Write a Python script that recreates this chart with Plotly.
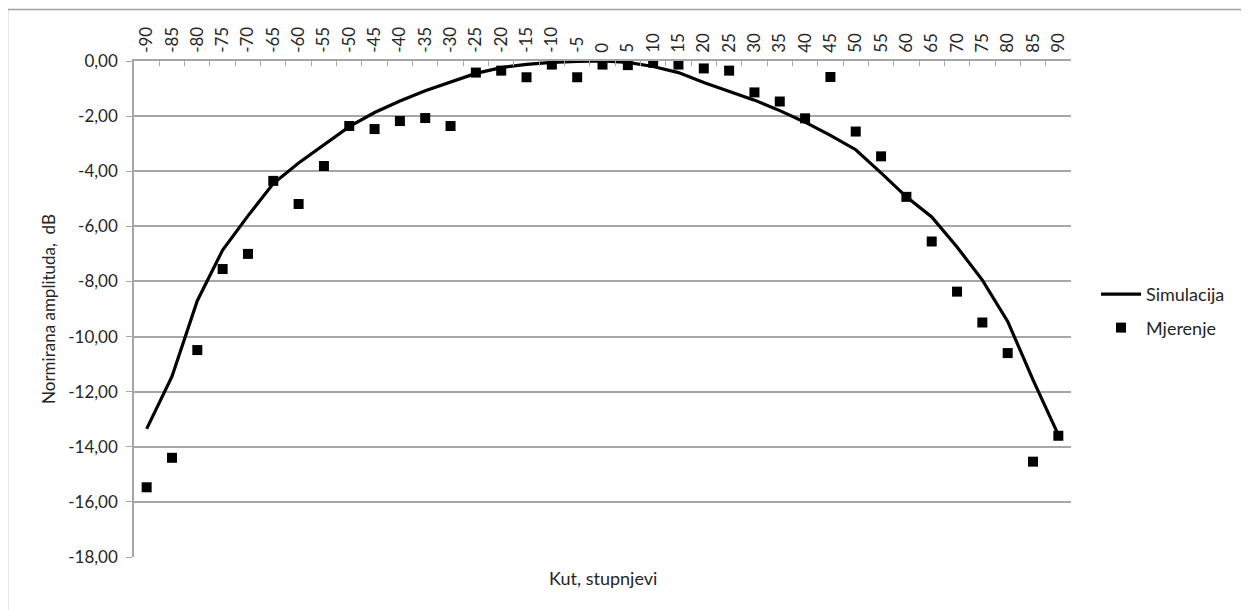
import plotly.graph_objects as go

angles = [-90, -85, -80, -75, -70, -65, -60, -55, -50, -45, -40, -35, -30, -25, -20, -15, -10, -5,
          0, 5, 10, 15, 20, 25, 30, 35, 40, 45, 50, 55, 60, 65, 70, 75, 80, 85, 90]
categories = [str(a) for a in angles]

simulacija = [-13.35, -11.45, -8.70, -6.86, -5.62, -4.45, -3.70, -3.05, -2.38, -1.87, -1.45, -1.08,
              -0.76, -0.45, -0.24, -0.12, -0.05, -0.01, 0.00, -0.05, -0.20, -0.42, -0.78, -1.10,
              -1.42, -1.80, -2.22, -2.70, -3.22, -4.06, -4.93, -5.66, -6.75, -7.95, -9.45, -11.57, -13.57]

mjerenje = [-15.47, -14.40, -10.49, -7.55, -7.00, -4.35, -5.19, -3.81, -2.36, -2.47, -2.18, -2.07,
            -2.36, -0.42, -0.35, -0.59, -0.13, -0.59, -0.13, -0.15, -0.06, -0.13, -0.27, -0.35,
            -1.14, -1.47, -2.08, -0.58, -2.56, -3.46, -4.93, -6.55, -8.37, -9.49, -10.60, -14.54, -13.60]

y_ticks = [0, -2, -4, -6, -8, -10, -12, -14, -16, -18]
y_ticktext = [f"{v:.2f}".replace(".", ",") for v in y_ticks]

FONT = "Lato, Open Sans, sans-serif"
GRID = "#a6a6a6"
TXT = "#262626"

fig = go.Figure()
fig.add_trace(go.Scatter(
    x=categories, y=simulacija, mode="lines", name="Simulacija", legendgroup="a",
    line=dict(color="black", width=3.2),
))
fig.add_trace(go.Scatter(
    x=categories, y=mjerenje, mode="markers", name="Mjerenje", legendgroup="b",
    marker=dict(symbol="square", color="black", size=10),
))

# page offset (body margin) compensation
OFF = 8
L, R, T, B = 134 - OFF, 1071 - OFF, 61 - OFF, 557 - OFF
W, H = 1249 - OFF, 610 - OFF
pw, ph = R - L, B - T

def px(x):
    return (x - OFF - L) / pw

def py(y):
    return (B - (y - OFF)) / ph

fig.add_shape(type="rect", xref="paper", yref="paper",
              x0=px(7.5), x1=px(1265), y0=py(9.5), y1=py(625),
              line=dict(color="#a0a0a0", width=1.5), fillcolor="rgba(0,0,0,0)", layer="below")

fig.update_layout(
    width=W, height=H,
    margin=dict(l=L, r=W - R, t=T, b=H - B, autoexpand=False),
    paper_bgcolor="white", plot_bgcolor="white",
    separators=",.",
    font=dict(family=FONT, size=16, color=TXT),
    showlegend=True,
    legend=dict(x=px(1096), y=py(276), xanchor="left", yanchor="top",
                font=dict(family=FONT, size=18, color=TXT),
                bgcolor="rgba(0,0,0,0)", tracegroupgap=7, itemwidth=40),
    xaxis=dict(
        type="category", side="top", categoryorder="array", categoryarray=categories,
        tickangle=-90, tickson="boundaries", ticks="inside", ticklen=5, tickcolor=GRID,
        showgrid=False, showline=True, linecolor=GRID, linewidth=1.5,
        tickfont=dict(family=FONT, size=17, color=TXT), ticklabelstandoff=3,
        range=[-0.5, len(categories) - 0.5], zeroline=False,
        title=None,
    ),
    yaxis=dict(
        range=[-18, 0], tickvals=y_ticks, ticktext=y_ticktext,
        ticks="outside", ticklen=6, tickcolor=GRID,
        showgrid=True, gridcolor=GRID, gridwidth=1.5,
        showline=True, linecolor=GRID, linewidth=1.5, zeroline=False,
        tickfont=dict(family=FONT, size=17, color=TXT), ticklabelstandoff=5,
        title=dict(text="Normirana amplituda,  dB", font=dict(family=FONT, size=17, color=TXT), standoff=8),
    ),
)

fig.add_annotation(xref="paper", yref="paper", x=0.5, y=py(578), text="Kut, stupnjevi",
                   showarrow=False, font=dict(family=FONT, size=18, color=TXT),
                   xanchor="center", yanchor="middle")

fig.write_html("out.html")
